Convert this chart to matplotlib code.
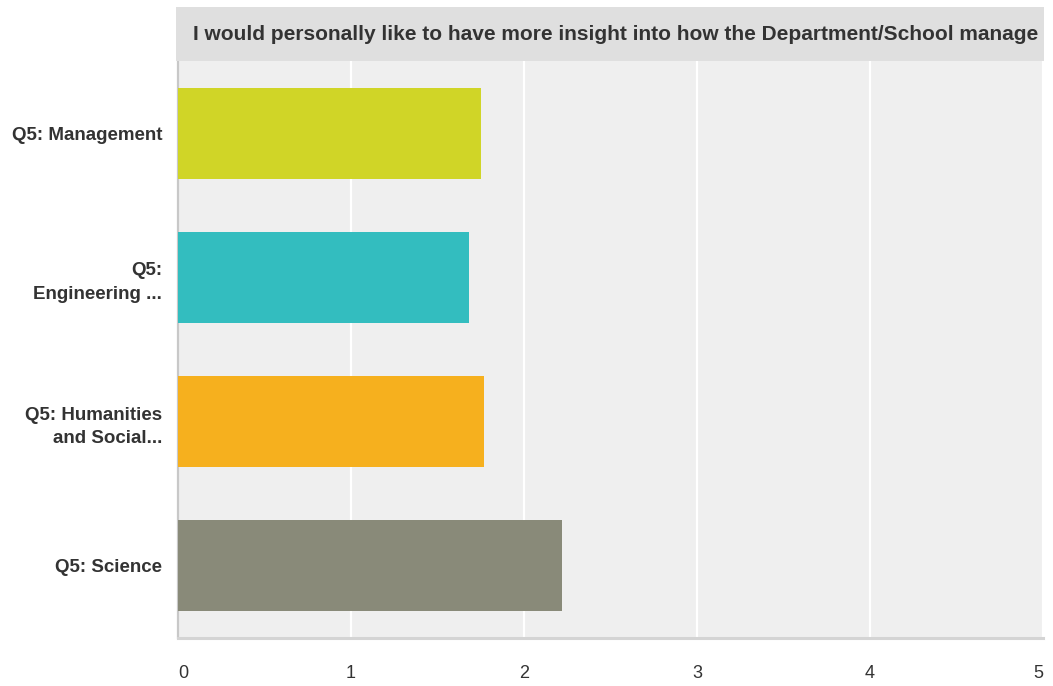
import matplotlib
matplotlib.use("Agg")
import matplotlib.pyplot as plt
from matplotlib.patches import Rectangle

categories = ["Q5: Management", "Q5:\nEngineering ...", "Q5: Humanities\nand Social...", "Q5: Science"]
values = [1.75, 1.68, 1.77, 2.22]
colors = ["#d0d527", "#33bdbf", "#f6b01e", "#898a79"]
xticks = [0, 1, 2, 3, 4, 5]
title = "I would personally like to have more insight into how the Department/School manage"

plt.rcParams['font.family'] = ['Liberation Sans', 'DejaVu Sans']

W, H = 1053, 686
fig = plt.figure(figsize=(W/100, H/100), dpi=100)
ax = fig.add_axes([178/W, 1-638/H, (1043-178)/W, (638-61)/H])
ax.set_facecolor("#efefef")

ypos = list(range(len(categories)))
ax.barh(ypos, values, height=0.63, color=colors, zorder=3)
ax.set_ylim(len(categories)-0.5, -0.5)
ax.set_xlim(0, 5)
ax.set_xticks(xticks)
xl = ax.set_xticklabels([str(t) for t in xticks], fontsize=13, color="#333333")
xl[0].set_ha("left")
xl[-1].set_ha("right")
ax.set_yticks(ypos)
ax.set_yticklabels(categories, fontsize=13.5, fontweight="bold", color="#333333", linespacing=1.5)
ax.tick_params(axis="x", length=0, pad=19.5)
ax.tick_params(axis="y", length=0, pad=11.5)
ax.grid(axis="x", color="white", linewidth=1.6, zorder=1)
ax.set_axisbelow(True)
for s in ["top", "right"]:
    ax.spines[s].set_visible(False)
ax.spines["left"].set_color("#c8c8c8")
ax.spines["left"].set_linewidth(1.6)
ax.spines["bottom"].set_color("#d4d4d4")
ax.spines["bottom"].set_linewidth(2.2)

band = Rectangle((176/W, 1-61/H), (1044-176)/W, (61-7)/H, transform=fig.transFigure,
                 facecolor="#dfdfdf", edgecolor="none", zorder=0)
fig.patches.append(band)
fig.text(193/W, 1-34.5/H, title, fontsize=15, fontweight="bold", color="#333333",
         ha="left", va="center")

fig.savefig("out.png", dpi=100)
